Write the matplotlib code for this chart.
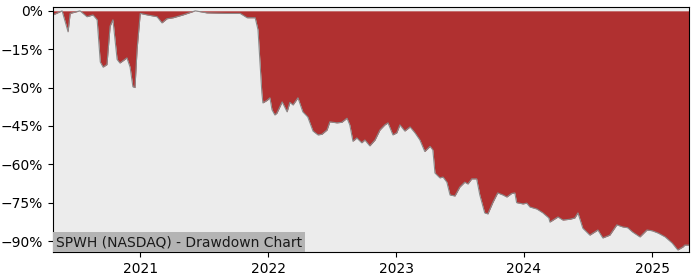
import numpy as np
import pandas as pd
import matplotlib
matplotlib.use("Agg")
import matplotlib.pyplot as plt
from matplotlib.ticker import PercentFormatter

dates = [
    "2020-04-27", "2020-05-23", "2020-06-09", "2020-06-15", "2020-07-13", "2020-08-02",
    "2020-08-19", "2020-08-31", "2020-09-09", "2020-09-17", "2020-09-28", "2020-10-07",
    "2020-10-15", "2020-10-27", "2020-11-04", "2020-11-24", "2020-12-03", "2020-12-11",
    "2020-12-17", "2020-12-23", "2021-01-01", "2021-01-21", "2021-02-18", "2021-03-04",
    "2021-03-18", "2021-04-05", "2021-05-03", "2021-06-07", "2021-07-10", "2021-09-06",
    "2021-10-13", "2021-11-02", "2021-11-25", "2021-12-03", "2021-12-14", "2021-12-17",
    "2021-12-29", "2022-01-06", "2022-01-12", "2022-01-20", "2022-01-26", "2022-02-10",
    "2022-02-24", "2022-03-04", "2022-03-13", "2022-03-27", "2022-04-10", "2022-04-24",
    "2022-05-09", "2022-05-23", "2022-06-03", "2022-06-18", "2022-06-26", "2022-07-16",
    "2022-07-30", "2022-08-14", "2022-08-22", "2022-08-31", "2022-09-11", "2022-09-25",
    "2022-10-04", "2022-10-18", "2022-11-02", "2022-11-16", "2022-11-30", "2022-12-09",
    "2022-12-23", "2023-01-03", "2023-01-12", "2023-01-26", "2023-02-10", "2023-02-24",
    "2023-03-10", "2023-03-24", "2023-04-08", "2023-04-16", "2023-04-22", "2023-05-06",
    "2023-05-15", "2023-05-26", "2023-06-04", "2023-06-18", "2023-07-02", "2023-07-16",
    "2023-07-25", "2023-08-05", "2023-08-19", "2023-08-28", "2023-09-11", "2023-09-20",
    "2023-10-04", "2023-10-18", "2023-11-02", "2023-11-13", "2023-11-27", "2023-12-06",
    "2023-12-11", "2023-12-29", "2024-01-09", "2024-01-18", "2024-02-07", "2024-02-24",
    "2024-03-12", "2024-03-15", "2024-04-07", "2024-04-21", "2024-05-11", "2024-05-25",
    "2024-06-03", "2024-06-17", "2024-07-07", "2024-07-30", "2024-08-13", "2024-09-02",
    "2024-09-22", "2024-10-09", "2024-10-23", "2024-11-06", "2024-11-27", "2024-12-17",
    "2025-01-01", "2025-01-18", "2025-02-07", "2025-02-27", "2025-03-15", "2025-03-30",
    "2025-04-04", "2025-04-16",
]
drawdown = [
    -1.6, 0.0, -8.2, -1.0, 0.0, -2.3,
    -1.6, -3.5, -20.0, -22.0, -21.0, -6.0,
    -3.5, -19.0, -20.4, -18.4, -22.0, -29.7,
    -30.0, -15.0, -1.0, -1.6, -2.3, -4.7,
    -3.1, -2.7, -1.6, 0.0, -0.8, -1.0,
    -1.0, -2.7, -2.7, -7.4, -32.0, -36.0,
    -35.0, -34.0, -38.7, -40.7, -40.0, -35.6,
    -39.5, -35.8, -36.8, -34.0, -39.5, -41.5,
    -47.0, -48.5, -48.3, -46.6, -43.4, -43.8,
    -43.6, -42.0, -44.6, -51.0, -49.7, -51.6,
    -50.5, -52.8, -50.5, -46.6, -44.6, -43.8,
    -48.5, -47.7, -44.6, -47.0, -45.4, -47.7,
    -50.5, -55.0, -53.0, -54.4, -63.4, -65.3,
    -65.0, -67.0, -72.0, -72.4, -68.9, -67.0,
    -67.7, -65.7, -65.7, -72.0, -79.0, -79.4,
    -75.0, -71.2, -72.0, -72.8, -71.4, -71.2,
    -75.0, -75.5, -75.2, -76.7, -77.5, -79.0,
    -81.0, -82.6, -80.6, -81.8, -81.5, -81.0,
    -79.0, -85.0, -87.7, -85.7, -88.8, -87.7,
    -83.7, -84.5, -84.8, -86.5, -88.4, -85.7,
    -86.0, -86.9, -88.4, -90.8, -93.5, -92.3,
    -91.6, -91.6,
]
yticks = [0, -15, -30, -45, -60, -75, -90]
year_ticks = ["2021-01-01", "2022-01-01", "2023-01-01", "2024-01-01", "2025-01-01"]
year_labels = ["2021", "2022", "2023", "2024", "2025"]

x = pd.to_datetime(dates)
y = np.array(drawdown)

fig = plt.figure(figsize=(7, 2.8), dpi=100)
ax = fig.add_axes([0.0757, 0.1, 0.9086, 0.875])
ax.set_facecolor("#ececec")

ax.fill_between(x, y, 0, color="#b03030", linewidth=0)
ax.plot(x, y, color="#8a8a8a", linewidth=0.8)

ax.set_xlim(x[0], x[-1])
ax.set_ylim(-94.3, 1.5)
ax.set_yticks(yticks)
ax.yaxis.set_major_formatter(PercentFormatter(decimals=0))
ax.set_xticks(pd.to_datetime(year_ticks))
ax.set_xticklabels(year_labels)

ax.text(0.005, 0.012, "SPWH (NASDAQ) - Drawdown Chart", transform=ax.transAxes,
        fontsize=10, color="#1a1a1a", ha="left", va="bottom",
        bbox=dict(facecolor="#b4b4b4", edgecolor="none", pad=2))

fig.savefig("out.png", dpi=100)
